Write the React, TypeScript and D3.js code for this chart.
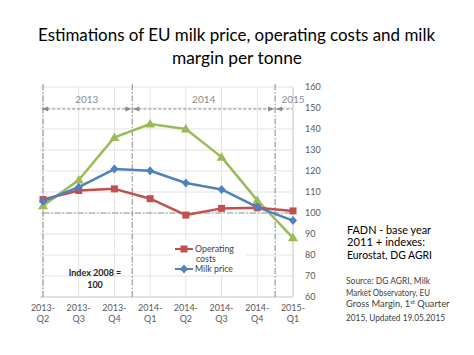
import React from "react";
import * as d3 from "d3";

const categories = ["2013-Q2", "2013-Q3", "2013-Q4", "2014-Q1", "2014-Q2", "2014-Q3", "2014-Q4", "2015-Q1"];
const operatingCosts = [106.4, 110.7, 111.5, 106.8, 99.0, 102.2, 102.5, 101.0];
const milkPrice = [105.6, 112.3, 120.9, 120.1, 114.3, 111.2, 102.8, 96.4];
const milkMargin = [103.4, 115.7, 136.0, 142.4, 140.0, 126.6, 106.0, 88.2];
const yTicks = [60, 70, 80, 90, 100, 110, 120, 130, 140, 150, 160];
const years = [
  { label: "2013", from: -0.05, to: 2.5 },
  { label: "2014", from: 2.5, to: 6.5 },
  { label: "2015", from: 6.5, to: 7 },
];
const yearBoundaries = [0, 2.5, 6.5];

const FONT = "Lato, 'Open Sans', sans-serif";
const RED = "#C0504D";
const BLUE = "#4F81BD";
const GREEN = "#9BBB59";

export default function App() {
  const x = d3.scaleLinear().domain([0, 7]).range([43, 293]);
  const y = d3.scaleLinear().domain([60, 160]).range([297, 87]);
  const line = d3
    .line<number>()
    .x((_, i) => x(i))
    .y((d) => y(d));

  const square = (cx: number, cy: number, k: string) => (
    <rect key={k} x={cx - 3.5} y={cy - 3.5} width={7} height={7} fill={RED} />
  );
  const diamond = (cx: number, cy: number, k: string) => (
    <path key={k} d={`M${cx},${cy - 4.5}L${cx + 4},${cy}L${cx},${cy + 4.5}L${cx - 4},${cy}Z`} fill={BLUE} />
  );
  const tri = (cx: number, cy: number, k: string) => (
    <path key={k} d={`M${cx},${cy - 5}L${cx + 5},${cy + 3.5}L${cx - 5},${cy + 3.5}Z`} fill={GREEN} />
  );

  const arrowY = 109;
  const arrowHead = (px: number, dir: number, k: string) => (
    <path key={k} d={`M${px},${arrowY}L${px - dir * 6},${arrowY - 2.5}L${px - dir * 6},${arrowY + 2.5}Z`} fill="#8a8a8a" />
  );

  return (
    <svg width={474} height={355} style={{ position: "absolute", left: 0, top: 0, background: "#fff" }}>
      <rect width={474} height={355} fill="#fff" />
      {/* Title */}
      <text x={236.5} y={41} textAnchor="middle" fontFamily={FONT} fontSize={17.5} fill="#000" textLength={397} lengthAdjust="spacingAndGlyphs">
        Estimations of EU milk price, operating costs and milk
      </text>
      <text x={237} y={64} textAnchor="middle" fontFamily={FONT} fontSize={17.5} fill="#000" textLength={130} lengthAdjust="spacingAndGlyphs">
        margin per tonne
      </text>

      {/* gridlines */}
      {yTicks.map((t) => (
        <line key={"h" + t} x1={40} x2={293} y1={y(t)} y2={y(t)} stroke="#e3e3e3" strokeWidth={1} />
      ))}
      {categories.map((c, i) => (
        <line key={"v" + c} x1={x(i)} x2={x(i)} y1={y(160)} y2={y(60)} stroke="#e3e3e3" strokeWidth={1} />
      ))}
      {/* right axis */}
      <line x1={293} x2={293} y1={y(160)} y2={y(60)} stroke="#d0d0d0" strokeWidth={1} />
      <line x1={40} x2={293} y1={y(60)} y2={y(60)} stroke="#d0d0d0" strokeWidth={1} />
      {yTicks.map((t) => (
        <text key={"yt" + t} x={305} y={y(t) + 3.2} fontFamily={FONT} fontSize={9} fill="#595959">
          {t}
        </text>
      ))}
      {categories.map((c, i) => {
        const [a, b] = c.split("-");
        return (
          <g key={"xl" + c}>
            <text x={x(i)} y={311} textAnchor="middle" fontFamily={FONT} fontSize={9} fill="#595959">
              {a + "-"}
            </text>
            <text x={x(i)} y={322} textAnchor="middle" fontFamily={FONT} fontSize={9} fill="#595959">
              {b}
            </text>
          </g>
        );
      })}

      {/* dash-dot lines */}
      {yearBoundaries.map((b) => (
        <line key={"yb" + b} x1={x(b)} x2={x(b)} y1={y(160) - 3} y2={y(60)} stroke="#9a9a9a" strokeWidth={1.2} strokeDasharray="6,2,1.5,2" />
      ))}
      <line x1={x(0)} x2={x(7)} y1={y(100)} y2={y(100)} stroke="#9a9a9a" strokeWidth={1.2} strokeDasharray="6,2,1.5,2" />

      {/* year arrows */}
      {years.map((yr, i) => {
        const x1 = x(yr.from) + 1;
        const x2 = x(yr.to) - 1;
        return (
          <g key={"yr" + yr.label}>
            <line x1={x1} x2={x2} y1={arrowY} y2={arrowY} stroke="#8a8a8a" strokeWidth={1} strokeDasharray="3,2" />
            {i < 2 && arrowHead(x1, -1, "a" + i)}
            {i < 2 && arrowHead(x2, 1, "b" + i)}
            {i === 2 && arrowHead(x1, -1, "c" + i)}
            <text x={i === 2 ? x(7) : (x(yr.from) + x(yr.to)) / 2} y={103} textAnchor="middle" fontFamily={FONT} fontSize={10} fill="#8a8a8a">
              {yr.label}
            </text>
          </g>
        );
      })}

      {/* legend background */}
      <rect x={173} y={240} width={73} height={35} fill="#fff" />

      {/* series */}
      <path d={line(milkMargin) || ""} fill="none" stroke={GREEN} strokeWidth={2.5} strokeLinejoin="round" />
      <path d={line(operatingCosts) || ""} fill="none" stroke={RED} strokeWidth={2.5} strokeLinejoin="round" />
      <path d={line(milkPrice) || ""} fill="none" stroke={BLUE} strokeWidth={2.5} strokeLinejoin="round" />
      {milkMargin.map((v, i) => tri(x(i), y(v), "g" + i))}
      {operatingCosts.map((v, i) => square(x(i), y(v), "r" + i))}
      {milkPrice.map((v, i) => diamond(x(i), y(v), "bl" + i))}

      {/* legend */}
      <line x1={175} x2={193} y1={249} y2={249} stroke={RED} strokeWidth={2} />
      {square(184, 249, "lr")}
      <text x={195} y={252} fontFamily={FONT} fontSize={8.8} fill="#404040">Operating</text>
      <text x={196} y={262} fontFamily={FONT} fontSize={8.8} fill="#404040">costs</text>
      <line x1={175} x2={193} y1={269} y2={269} stroke={BLUE} strokeWidth={2} />
      {diamond(184, 269, "lb")}
      <text x={195} y={272} fontFamily={FONT} fontSize={8.8} fill="#404040">Milk price</text>

      {/* index note */}
      <text x={95} y={276} textAnchor="middle" fontFamily={FONT} fontSize={9} fontWeight="bold" fill="#262626">Index 2008 =</text>
      <text x={95} y={287.5} textAnchor="middle" fontFamily={FONT} fontSize={9} fontWeight="bold" fill="#262626">100</text>

      {/* right text */}
      <g fontFamily={FONT} fontSize={11.5} fill="#000" style={{ whiteSpace: "pre" }}>
        <text x={347} y={233.5} textLength={84} lengthAdjust="spacingAndGlyphs">{"FADN -  base year"}</text>
        <text x={347} y={246} textLength={78} lengthAdjust="spacingAndGlyphs">2011 + indexes:</text>
        <text x={347} y={258.5} textLength={85} lengthAdjust="spacingAndGlyphs">Eurostat, DG AGRI</text>
      </g>
      <g fontFamily={FONT} fontSize={9.3} fill="#404040" style={{ whiteSpace: "pre" }}>
        <text x={346} y={283.5} textLength={84} lengthAdjust="spacingAndGlyphs">{"Source:  DG AGRI,  Milk"}</text>
        <text x={346} y={295.5} textLength={84} lengthAdjust="spacingAndGlyphs">Market Observatory, EU</text>
        <text x={346} y={307}>
          Gross Margin, 1<tspan fontSize={6} dy={-3.4}>st</tspan>
          <tspan dy={3.4}> Quarter</tspan>
        </text>
        <text x={346} y={320.5} textLength={99} lengthAdjust="spacingAndGlyphs">2015, Updated 19.05.2015</text>
      </g>
    </svg>
  );
}
